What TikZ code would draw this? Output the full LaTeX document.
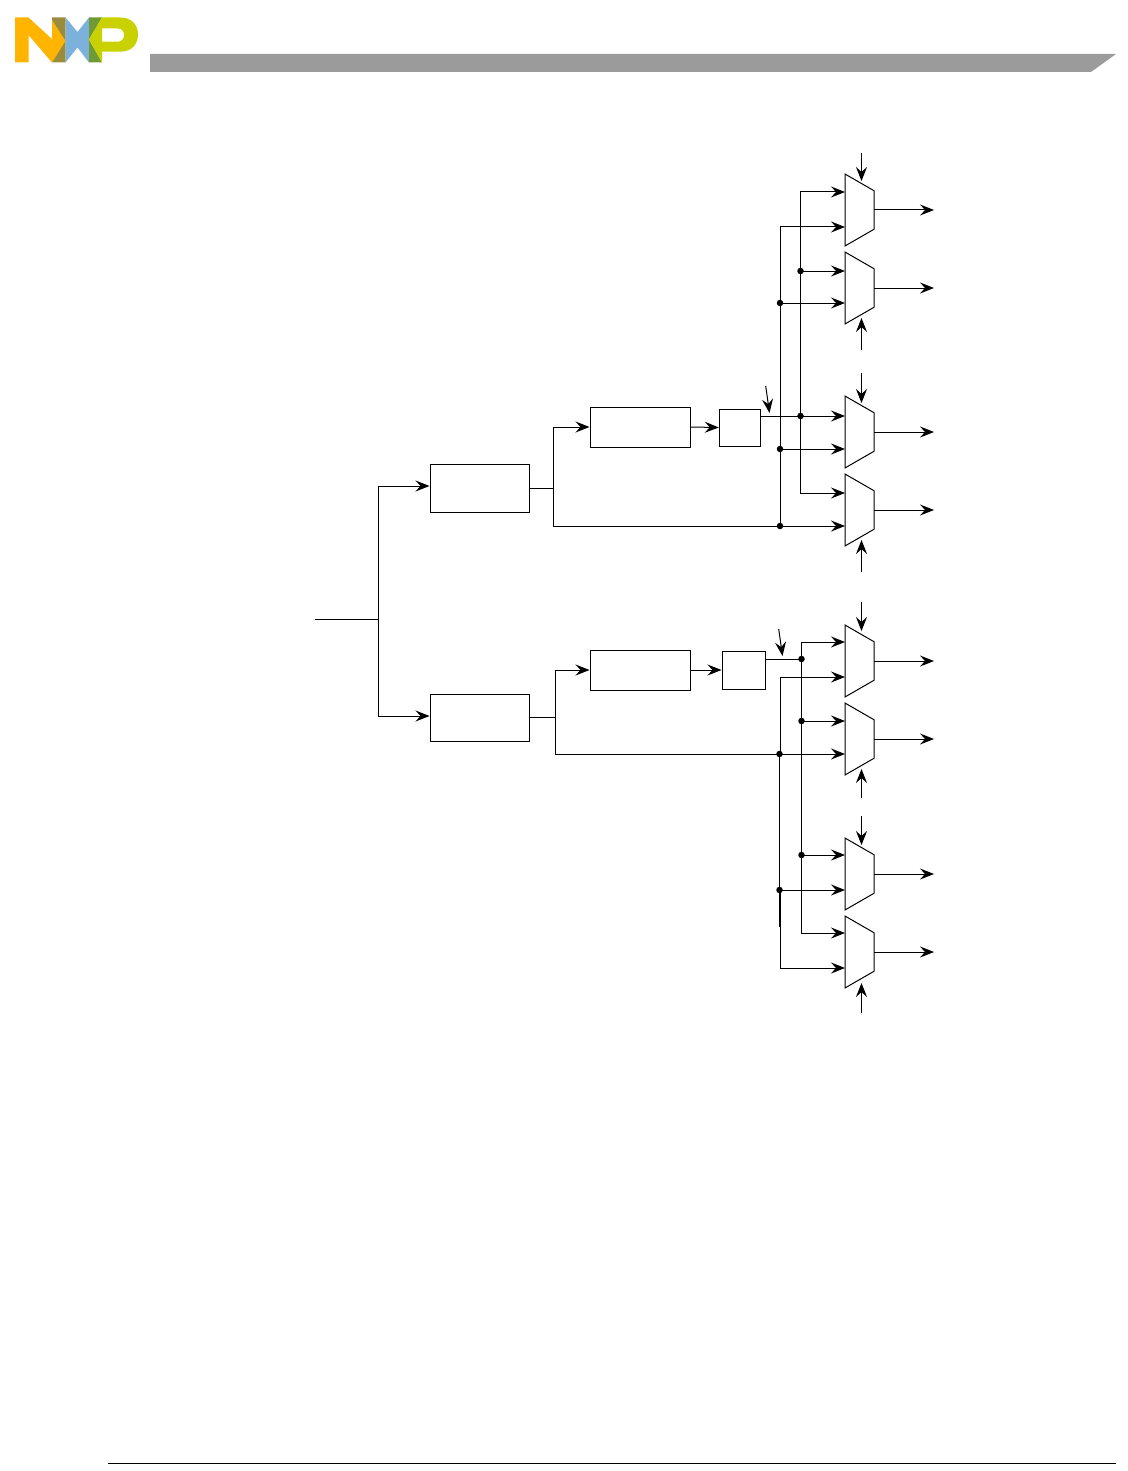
\documentclass[tikz,border=0pt]{standalone}
\usepackage{tikz}
\usetikzlibrary{shapes.geometric,arrows.meta,positioning,calc}
\definecolor{nxporange}{HTML}{FFB500}
\definecolor{nxpolive}{HTML}{9B8B3C}
\definecolor{nxpblue}{HTML}{7BB1DB}
\definecolor{nxpgreen}{HTML}{6F9A36}
\definecolor{nxplime}{HTML}{C9D200}
\definecolor{barGray}{HTML}{9B9B9B}
\begin{document}
\begin{tikzpicture}[
  x=1pt,y=-1pt,
  line width=1pt,
  >={Stealth[length=14pt,width=11pt,inset=5pt]},
  blockbox/.style={
    draw, minimum width=99pt, minimum height=40pt, inner sep=0pt
  },
  regbox/.style={
    draw, minimum width=41.5pt, minimum height=37pt, inner sep=0pt
  },
  muxbox/.style={
    draw, trapezium, rotate=-90, trapezium stretches=true,
    minimum width=72pt, minimum height=29pt, inner sep=2pt,
    trapezium left angle=64.2, trapezium right angle=64.2
  },
  dotnode/.style={
    circle, fill=black, inner sep=0pt, minimum size=6.5pt
  },
]
\useasboundingbox (0,0) rectangle (1127,1471);
% header bar and logo
\fill[barGray] (150,54) -- (1116,54) -- (1091,72) -- (150,72) -- cycle;
\draw[line width=0.8pt] (108,1463) -- (1116,1463);
\fill[nxporange] (15,17.5) -- (28.5,17.5) -- (52,39) -- (52,20) -- (65.5,41) -- (52,62.5)
  -- (28.5,35) -- (28.5,62.5) -- (15,62.5) -- cycle;
\fill[nxpolive] (52,17.5) -- (65.5,17.5) -- (65.5,41) -- (52,20) -- cycle;
\fill[nxpolive] (65.5,41) -- (65.5,62.5) -- (52,62.5) -- cycle;
\fill[nxpblue] (65.5,17.5) -- (77.5,32) -- (89,17.5) -- (89,62.5) -- (77.5,47.5) -- (65.5,62.5) -- cycle;
\fill[nxpgreen] (89,17.5) -- (102,17.5) -- (89,39.5) -- cycle;
\fill[nxpgreen] (89,39.5) -- (102,62.5) -- (89,62.5) -- cycle;
\fill[nxplime,even odd rule] (89,39.5) -- (102,17.5) -- (120,17.5)
  .. controls (132,17.5) and (138,25) .. (138,34.5)
  .. controls (138,44) and (132,51.7) .. (120,51.7)
  -- (102,51.7) -- (102,62.5) -- cycle
  (102,28.5) -- (118,28.5) .. controls (126,28.5) and (126,41.7) .. (118,41.7) -- (102,41.7) -- cycle;
% muxes
\foreach \mi/\my/\ia/\ib in {1/174/192/227,2/252/271/303,3/396/416/449,4/474/493/526,
  5/625/642/677,6/703/721/754,7/838/855/890,8/916/933/968}{
  \node[muxbox] (mux\mi) at (859.5,\my+36) {\phantom{x}};
  \coordinate (mux\mi a) at (845,\ia);
  \coordinate (mux\mi b) at (845,\ib);
  \coordinate (out\mi) at (934,\my+36);
  \draw[->] (874,\my+36) -- (out\mi);
}
% blocks
\node[blockbox,minimum height=48pt] (split1) at (479.5,488) {};
\node[blockbox,minimum height=47pt] (split2) at (479.5,717.5) {};
\node[blockbox,minimum width=100pt] (proc1) at (640,427) {};
\node[blockbox,minimum width=100pt] (proc2) at (640,670) {};
\node[regbox] (reg1) at (740,427.5) {};
\node[regbox,minimum width=43pt,minimum height=38pt] (reg2) at (743.5,670) {};
% select lines
\foreach \mi/\ya/\yb in {1/153/181,3/373/403,5/602/631,7/816/845,
  2/350/318,4/572/540,6/798/769,8/1013/983}{
  \coordinate (sel\mi) at (861.5,\ya);
  \draw[->] (sel\mi) -- (861.5,\yb);
}
% input and splitters
\coordinate (din) at (315,619);
\coordinate (fork) at (378,619);
\draw (din) -- (fork);
\draw[->] (fork) |- (split1.west |- 0,486);
\draw[->] (fork) |- (split2.west |- 0,716);
\coordinate (fork1) at (553,488);
\coordinate (fork2) at (555,717);
\draw (split1.east |- fork1) -- (fork1);
\draw (split2.east |- fork2) -- (fork2);
\draw[->] (fork1) |- (proc1.west);
\draw[->] (fork2) |- (proc2.west);
\draw[->] (fork1) |- (mux4b);
\draw[->] (fork2) |- (mux6b);
\draw[->] (proc1.east) -- (reg1.west);
\draw[->] (proc2.east) -- (reg2.west);
% top bus
\draw[->] (reg1.east |- mux3a) -- (mux3a);
\draw[->] (800.5,271) |- (mux1a);
\draw[->] (800.5,271) -- (mux2a);
\draw[->] (800.5,271) |- (mux4a);
\draw[->] (780,303) |- (mux1b);
\draw[->] (780,303) -- (mux2b);
\draw[->] (780,303) |- (mux3b);
\draw (780,449) -- (780,526);
\foreach \nm/\px/\py in {d1/800.5/271,d2/780/303,d3/800.5/416,d4/780/449,d5/780/526}{
  \node[dotnode] (\nm) at (\px,\py) {};
}
% bottom bus
\coordinate (reg2out) at (801.5,659);
\draw (reg2.east |- reg2out) -- (reg2out);
\draw[->] (801,659) |- (mux5a);
\draw[->] (801,721) -- (mux6a);
\draw (801,659) -- (801,721);
\draw[->] (801,721) |- (mux7a);
\draw[->] (801,855) |- (mux8a);
\draw[->] (780.3,754) |- (mux5b);
\draw (779.3,754) -- (779.3,927);
\draw[->] (779.3,890) -- (mux7b);
\draw[->] (780.5,890) |- (mux8b);
\foreach \nm/\px/\py in {d6/801.5/659,d7/801.5/721,d8/779.5/754,d9/801.5/855,d10/779.5/890}{
  \node[dotnode] (\nm) at (\px,\py) {};
}
% clock arrows
\draw[->] (765.7,386) -- (769.5,413);
\draw[->] (778.7,629) -- (782.5,656);
\end{tikzpicture}
\end{document}
